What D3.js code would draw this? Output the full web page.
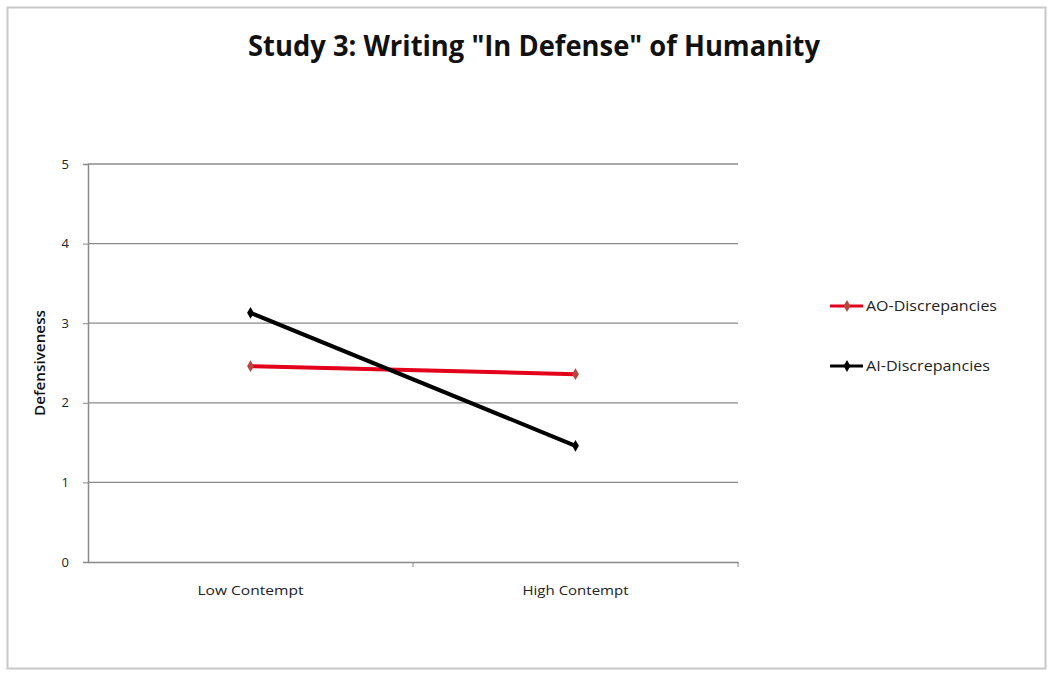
<!DOCTYPE html>
<html><head><meta charset="utf-8">
<script src="https://cdn.jsdelivr.net/npm/d3@7"></script>
<style>body{margin:0;background:#fff}svg{display:block}</style>
</head><body>
<svg id="c" width="1049" height="677"></svg>
<script>
const categories = ["Low Contempt", "High Contempt"];
const seriesNames = ["AO-Discrepancies", "AI-Discrepancies"];
const aoValues = [2.46, 2.36];
const aiValues = [3.13, 1.46];
const yTicks = [0, 1, 2, 3, 4, 5];
const colors = ["#e3001b", "#000000"];

const series = [
  {name: seriesNames[0], values: aoValues, color: colors[0]},
  {name: seriesNames[1], values: aiValues, color: colors[1]}
];

const svg = d3.select("#c");
const font = "'Open Sans', 'Noto Sans', sans-serif";

// frame
svg.append("rect").attr("x", 7.5).attr("y", 7.5).attr("width", 1038).attr("height", 661)
  .attr("fill", "#fff").attr("stroke", "#c8c8c8").attr("stroke-width", 2);

const pLeft = 88, pRight = 738, pTop = 164, pBottom = 562;
const x = d3.scaleBand().domain(categories).range([pLeft, pRight]);
const y = d3.scaleLinear().domain([0, 5]).range([pBottom, pTop]);

// gridlines
svg.append("g").selectAll("line").data(yTicks.filter(d => d > 0)).join("line")
  .attr("x1", pLeft).attr("x2", pRight)
  .attr("y1", d => y(d)).attr("y2", d => y(d))
  .attr("stroke", "#8a8a8a").attr("stroke-width", 1.3);

// y axis
const ya = svg.append("g").attr("transform", `translate(${pLeft},0)`)
  .call(d3.axisLeft(y).tickValues(yTicks).tickSize(5).tickPadding(14).tickFormat(d3.format("d")));
ya.select(".domain").attr("stroke", "#8a8a8a").attr("stroke-width", 1.5);
ya.selectAll(".tick line").attr("stroke", "#8a8a8a");
ya.selectAll("text").attr("font-family", font).attr("font-size", 13).attr("fill", "#222");

// x axis
const xa = svg.append("g").attr("transform", `translate(0,${pBottom})`)
  .call(d3.axisBottom(x).tickSize(0).tickPadding(23));
xa.select(".domain").attr("stroke", "#8a8a8a").attr("stroke-width", 1.5);
xa.selectAll("text").attr("font-family", font).attr("font-size", 13.5).attr("fill", "#222")
  .attr("textLength", 106).attr("lengthAdjust", "spacingAndGlyphs");
svg.append("g").selectAll("line").data(categories.slice(1)).join("line")
  .attr("x1", d => x(d)).attr("x2", d => x(d))
  .attr("y1", pBottom).attr("y2", pBottom + 5).attr("stroke", "#8a8a8a");
svg.append("line").attr("x1", pRight).attr("x2", pRight).attr("y1", pBottom).attr("y2", pBottom + 5).attr("stroke", "#8a8a8a");

// lines
const cx = c => x(c) + x.bandwidth() / 2;
const line = d3.line().x((d, i) => cx(categories[i])).y(d => y(d));
series.forEach(s => {
  svg.append("path").datum(s.values).attr("d", line)
    .attr("fill", "none").attr("stroke", s.color).attr("stroke-width", 4);
  svg.append("g").selectAll("path").data(s.values).join("path")
    .attr("d", d3.symbol(d3.symbolDiamond, 40))
    .attr("transform", (d, i) => `translate(${cx(categories[i])},${y(d)})`)
    .attr("fill", s.color === "#000000" ? "#000" : "#b8453f");
});

// title
svg.append("text").attr("x", 534).attr("y", 56).attr("text-anchor", "middle")
  .attr("font-family", font).attr("font-weight", "bold").attr("font-size", 28)
  .attr("textLength", 572).attr("lengthAdjust", "spacingAndGlyphs")
  .attr("fill", "#111").text('Study 3: Writing "In Defense" of Humanity');

// y label
svg.append("text").attr("transform", "translate(45,363) rotate(-90)").attr("text-anchor", "middle")
  .attr("font-family", font).attr("font-weight", "600").attr("font-size", 13.5)
  .attr("textLength", 106).attr("lengthAdjust", "spacingAndGlyphs")
  .attr("fill", "#111").text("Defensiveness");

// legend
const lg = svg.append("g").selectAll("g").data(series).join("g")
  .attr("transform", (d, i) => `translate(830,${306 + i * 60})`);
lg.append("line").attr("x1", 0).attr("x2", 33).attr("stroke", d => d.color).attr("stroke-width", 3);
lg.append("path").attr("d", d3.symbol(d3.symbolDiamond, 40)).attr("transform", "translate(17,0)")
  .attr("fill", d => d.color === "#000000" ? "#000" : "#b8453f");
lg.append("text").attr("x", 36).attr("dy", "0.35em").attr("font-family", font).attr("font-size", 14)
  .attr("textLength", (d, i) => i === 0 ? 131 : 124).attr("lengthAdjust", "spacingAndGlyphs")
  .attr("fill", "#222").text(d => d.name);
</script>
</body></html>
